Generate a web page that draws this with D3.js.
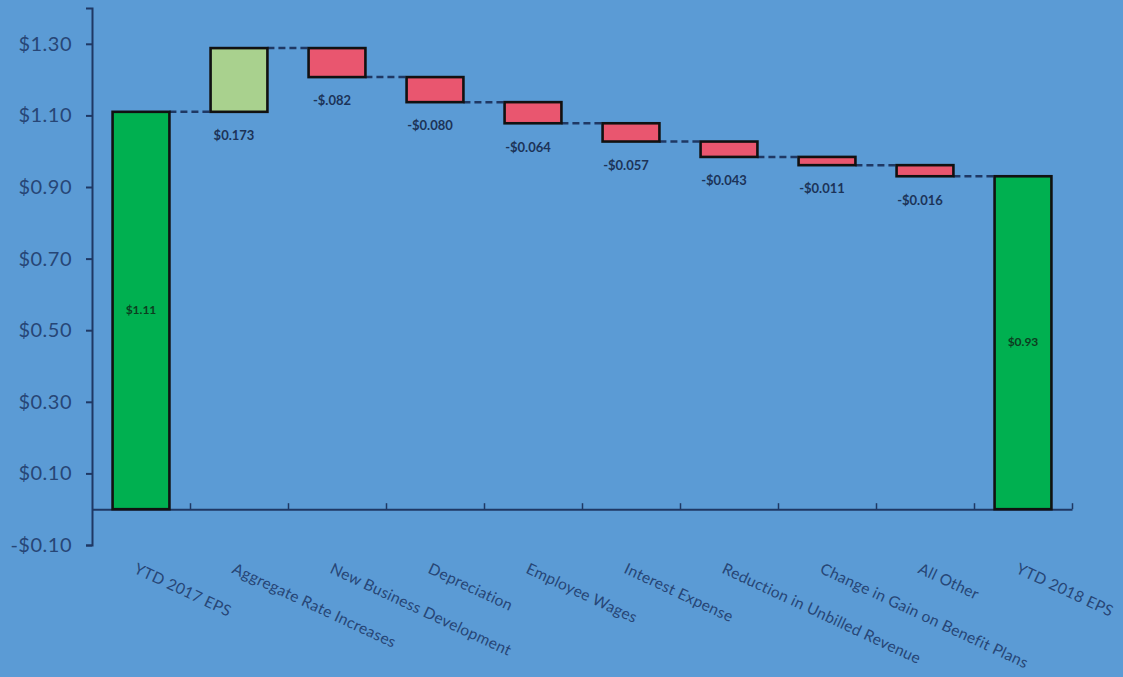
<!DOCTYPE html>
<html>
<head>
<meta charset="utf-8">
<script src="https://cdn.jsdelivr.net/npm/d3@7"></script>
<style>
  body { margin:0; background:#5b9bd5; }
  svg { display:block; }
</style>
</head>
<body>
<svg></svg>
<script>
var screen = {width:1123,height:677}
var margins = {top:8,right:49,bottom:132,left:92}

// data
var categories = ["YTD 2017 EPS","Aggregate Rate Increases","New Business Development","Depreciation",
    "Employee Wages","Interest Expense","Reduction in Unbilled Revenue","Change in Gain on Benefit Plans",
    "All Other","YTD 2018 EPS"]
// running total after each step, as the bars are drawn
var levels = [1.11, 1.288, 1.207, 1.137, 1.078, 1.027, 0.984, 0.961, 0.930, 0.930]
var kinds = ["total","up","down","down","down","down","down","down","down","total"]
var valueLabels = ["$1.11","$0.173","-$.082","-$0.080","-$0.064","-$0.057","-$0.043","-$0.011","-$0.016","$0.93"]
var yTicks = [-0.10,0.10,0.30,0.50,0.70,0.90,1.10,1.30]

var colors = {total:"#00b050", up:"#a9d18e", down:"#e9566f"}
var ink = "#1f3864"

var svg = d3.select("svg")
    .attr("width",screen.width)
    .attr("height",screen.height)

var width = screen.width - margins.left - margins.right
var height = screen.height - margins.top - margins.bottom

var yScale = d3.scaleLinear()
    .domain([-0.1,1.4])
    .range([margins.top+height, margins.top])

var xScale = d3.scaleBand()
    .domain(categories)
    .range([margins.left, margins.left+980])
    .paddingInner(0.42)
    .paddingOuter(0.21)

// build bar table: start/end of each bar
var bars = categories.map(function(c,i)
{
    var start = kinds[i]=="total" ? 0 : levels[i-1]
    return {cat:c, start:start, end:levels[i], kind:kinds[i], label:valueLabels[i]}
})

// y axis
var yAxis = d3.axisLeft(yScale)
    .tickValues(yTicks)
    .tickSizeOuter(0)
    .tickSize(6)
    .tickPadding(14)
    .tickFormat(function(v){ return (v<0?"-$":"$") + Math.abs(v).toFixed(2) })

var gy = svg.append("g")
    .attr("transform","translate("+margins.left+",0)")
    .call(yAxis)
gy.select(".domain").attr("stroke",ink).attr("stroke-width",2)
gy.selectAll(".tick line").attr("stroke",ink).attr("stroke-width",2)
gy.selectAll(".tick text")
    .attr("fill","#274676")
    .style("font-family","Lato, 'Open Sans', sans-serif")
    .style("font-size","20px")
    .style("letter-spacing","0.5px")

// x axis along zero, ticks at category boundaries pointing up
var step = xScale.step()
var xi = d3.scaleLinear().domain([0,categories.length]).range([margins.left, margins.left+step*categories.length])
var xAxis = d3.axisBottom(xi)
    .tickValues(d3.range(1,categories.length+1))
    .tickSize(-6)
    .tickSizeOuter(0)
    .tickFormat("")
var gx = svg.append("g")
    .attr("transform","translate(0,"+yScale(0)+")")
    .call(xAxis)
gx.select(".domain").attr("stroke",ink).attr("stroke-width",2)
gx.selectAll(".tick line").attr("stroke",ink).attr("stroke-width",1.5)

// category labels, slanted
svg.append("g")
    .selectAll("text")
    .data(categories)
    .enter()
    .append("text")
    .attr("transform",function(c){ return "translate("+(xScale(c)+xScale.bandwidth()/2-3)+",562) rotate(25)" })
    .attr("dy","0.75em")
    .attr("fill","#274676")
    .style("font-family","Lato, 'Open Sans', sans-serif")
    .style("font-size","15.5px")
    .style("letter-spacing","0.3px")
    .text(function(c){ return c })

// dashed connectors between bars
svg.append("g")
    .selectAll("line")
    .data(bars.slice(0,bars.length-1))
    .enter()
    .append("line")
    .attr("x1",function(d){ return xScale(d.cat)+xScale.bandwidth() })
    .attr("x2",function(d,i){ return xScale(categories[i+1]) })
    .attr("y1",function(d){ return yScale(d.end) })
    .attr("y2",function(d){ return yScale(d.end) })
    .attr("stroke",ink)
    .attr("stroke-width",2.5)
    .attr("stroke-dasharray","7,4")

// bars
svg.append("g")
    .selectAll("rect")
    .data(bars)
    .enter()
    .append("rect")
    .attr("x",function(d){ return xScale(d.cat) })
    .attr("width",xScale.bandwidth())
    .attr("y",function(d){ return yScale(Math.max(d.start,d.end)) })
    .attr("height",function(d){ return Math.abs(yScale(d.start)-yScale(d.end)) })
    .attr("fill",function(d){ return colors[d.kind] })
    .attr("stroke","#111")
    .attr("stroke-width",2.6)

// value labels
svg.append("g")
    .selectAll("text")
    .data(bars)
    .enter()
    .append("text")
    .attr("x",function(d){ return xScale(d.cat)+xScale.bandwidth()/2 + (d.kind=="total"?0:-5) })
    .attr("y",function(d)
    {
        if(d.kind=="total") return yScale(d.end/2)
        return yScale(Math.min(d.start,d.end)) + 25
    })
    .attr("text-anchor","middle")
    .attr("dominant-baseline","middle")
    .attr("fill",function(d){ return d.kind=="total" ? "#0d3d20" : "#1c3358" })
    .style("font-family","Lato, 'Open Sans', sans-serif")
    .style("font-weight","700")
    .style("font-size",function(d){ return d.kind=="total" ? "12px" : "13px" })
    .text(function(d){ return d.label })
</script>
</body>
</html>
